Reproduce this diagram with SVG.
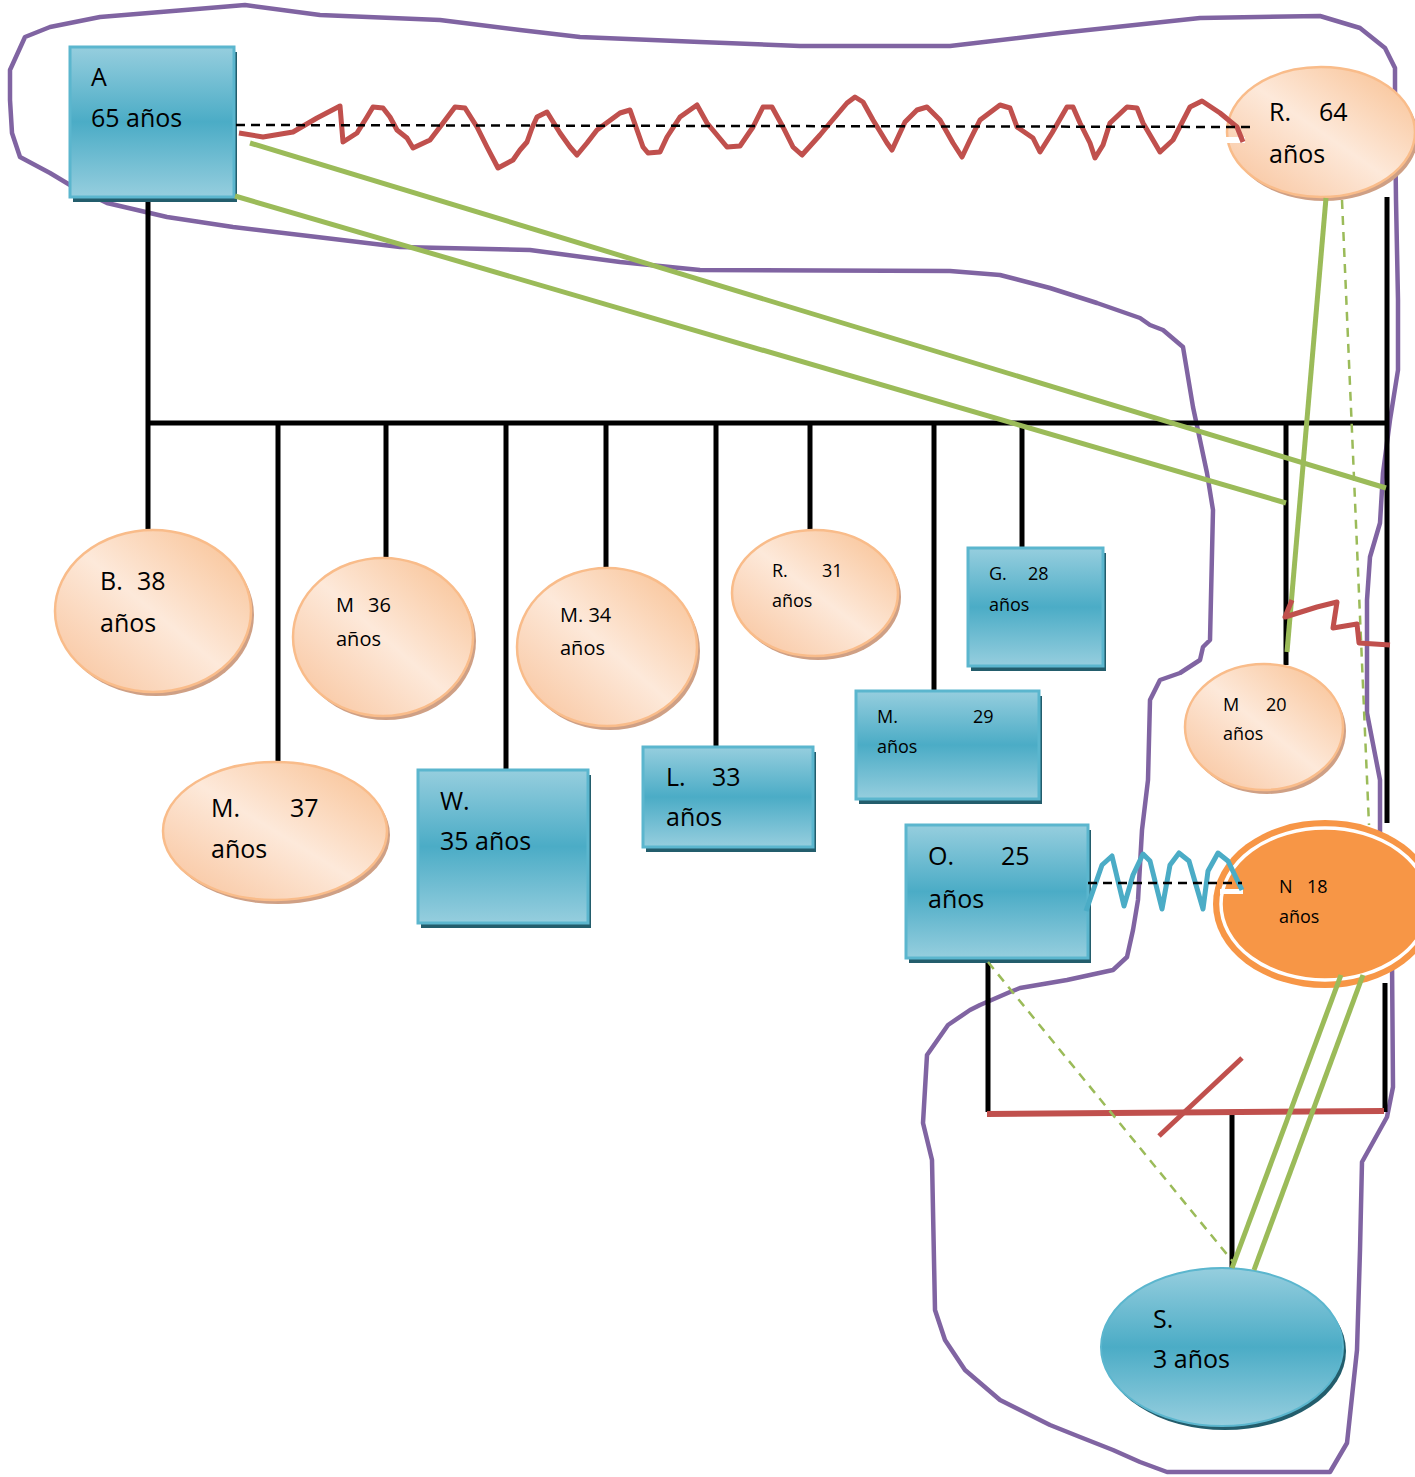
<svg xmlns="http://www.w3.org/2000/svg" width="1415" height="1477" viewBox="0 0 1415 1477">
  <defs>
    <linearGradient id="blueFill" x1="0" y1="0" x2="0" y2="1">
      <stop offset="0" stop-color="#96CEDE"/>
      <stop offset="0.5" stop-color="#4BACC6"/>
      <stop offset="1" stop-color="#96CEDE"/>
    </linearGradient>
    <linearGradient id="peachFill" x1="1" y1="0" x2="0" y2="1">
      <stop offset="0" stop-color="#F8BE8E"/>
      <stop offset="0.5" stop-color="#FDE9DA"/>
      <stop offset="1" stop-color="#F8C198"/>
    </linearGradient>
    <style>
      .box { fill: url(#blueFill); stroke: #5BB6CE; stroke-width: 3; }
      .box-shadow { fill: #235D6C; }
      .peach { fill: url(#peachFill); stroke: #F9BC8A; stroke-width: 2.5; }
      .peach-shadow { fill: #CFA085; }
      .blue-ell { fill: url(#blueFill); stroke: #5BB6CE; stroke-width: 2; }
      .t { font-family: "Open Sans", "Noto Sans", sans-serif; fill: #000; }
      .big { font-size: 25px; }
      .mid { font-size: 20px; }
      .small { font-size: 18px; }
      .kin { stroke: #000; stroke-width: 5; fill: none; }
      .green { stroke: #9BBB59; stroke-width: 5; fill: none; }
      .green-dash { stroke: #9BBB59; stroke-width: 2.5; fill: none; stroke-dasharray: 9 7; }
      .red { stroke: #C0504D; stroke-width: 5; fill: none; stroke-linejoin: round; stroke-linecap: butt; }
      .blue-wave { stroke: #4BACC6; stroke-width: 5; fill: none; stroke-linejoin: round; }
      .black-dash { stroke: #000; stroke-width: 2.5; fill: none; stroke-dasharray: 9 6; }
      .household { stroke: #8064A2; stroke-width: 4.5; fill: none; stroke-linejoin: round; }
    </style>
  </defs>

  <rect x="0" y="0" width="1415" height="1477" fill="#FFFFFF"/>

  <!-- household boundary -->
  <g id="household">
    <polyline class="household" points="185,10 245,5 320,15 440,20 520,30 580,37 700,42 800,46 950,46 1060,33 1200,18 1320,16 1360,28 1385,48 1395,68 1395,120 1396,200 1398,300 1398,370 1390,420 1383,473 1380,523 1370,557 1367,600 1367,713 1380,780 1380,840 1385,900 1392,960 1393,1087 1387,1117 1362,1162 1360,1250 1357,1350 1347,1443 1330,1472 1167,1472 1140,1462 1113,1450 1080,1437 1050,1425 1000,1400 965,1370 945,1340 935,1310 932,1160 923,1123 927,1055 948,1025 970,1010 980,1005 1010,992 1020,988 1067,980 1113,970 1127,957 1133,930 1138,900 1142,830 1148,780 1150,700 1160,680 1180,673 1200,660 1203,647 1210,640 1213,510 1207,473 1193,407 1183,347 1163,330 1150,325 1140,318 1097,303 1050,288 1000,275 950,271 700,270 620,262 530,250 400,247 317,237 233,227 167,217 107,203 70,185 50,173 20,157 12,133 10,100 10,70 25,37 50,27 100,17 185,10"/>
  </g>

  <!-- descent lines -->
  <g id="kinship-lines">
    <line class="kin" x1="148" y1="197" x2="148" y2="531"/>
    <line class="kin" x1="146" y1="423" x2="1389" y2="423"/>
    <line class="kin" x1="278" y1="423" x2="278" y2="762"/>
    <line class="kin" x1="386" y1="423" x2="386" y2="559"/>
    <line class="kin" x1="506" y1="423" x2="506" y2="770"/>
    <line class="kin" x1="606" y1="423" x2="606" y2="569"/>
    <line class="kin" x1="716" y1="423" x2="716" y2="747"/>
    <line class="kin" x1="810" y1="423" x2="810" y2="531"/>
    <line class="kin" x1="934" y1="423" x2="934" y2="691"/>
    <line class="kin" x1="1022" y1="423" x2="1022" y2="548"/>
    <line class="kin" x1="1286" y1="423" x2="1286" y2="665"/>
    <line class="kin" x1="1387" y1="197" x2="1387" y2="823"/>
    <line class="kin" x1="988" y1="958" x2="988" y2="1112"/>
    <line class="kin" x1="1385" y1="983" x2="1385" y2="1112"/>
    <line class="kin" x1="1232" y1="1113" x2="1232" y2="1268"/>
  </g>

  <!-- people -->
  <g id="node-A">
    <rect class="box-shadow" x="73" y="52" width="164" height="150"/>
    <rect class="box" x="70" y="47" width="164" height="150"/>
    <text class="t big" x="91" y="86">A</text>
    <text class="t big" x="91" y="127">65 años</text>
  </g>
  <g id="node-R64">
    <ellipse class="peach-shadow" cx="1324" cy="136" rx="94" ry="65"/>
    <ellipse class="peach" cx="1321" cy="132" rx="94" ry="65"/>
    <rect x="1226" y="137" width="19" height="6" fill="#FFFFFF"/>
    <text class="t big" x="1269" y="121">R.</text>
    <text class="t big" x="1319" y="121">64</text>
    <text class="t big" x="1269" y="163">años</text>
  </g>
  <g id="node-B38">
    <ellipse class="peach-shadow" cx="156" cy="615" rx="98" ry="81"/>
    <ellipse class="peach" cx="153" cy="611" rx="98" ry="81"/>
    <text class="t big" x="100" y="590">B.</text>
    <text class="t big" x="137" y="590">38</text>
    <text class="t big" x="100" y="632">años</text>
  </g>
  <g id="node-M37">
    <ellipse class="peach-shadow" cx="278" cy="835" rx="112" ry="69"/>
    <ellipse class="peach" cx="275" cy="831" rx="112" ry="69"/>
    <text class="t big" x="211" y="817">M.</text>
    <text class="t big" x="290" y="817">37</text>
    <text class="t big" x="211" y="858">años</text>
  </g>
  <g id="node-M36">
    <ellipse class="peach-shadow" cx="386" cy="641" rx="90" ry="79"/>
    <ellipse class="peach" cx="383" cy="637" rx="90" ry="79"/>
    <text class="t mid" x="336" y="612">M</text>
    <text class="t mid" x="368" y="612">36</text>
    <text class="t mid" x="336" y="646">años</text>
  </g>
  <g id="node-W35">
    <rect class="box-shadow" x="421" y="775" width="170" height="153"/>
    <rect class="box" x="418" y="770" width="170" height="153"/>
    <text class="t big" x="440" y="810">W.</text>
    <text class="t big" x="440" y="850">35 años</text>
  </g>
  <g id="node-M34">
    <ellipse class="peach-shadow" cx="610" cy="651" rx="90" ry="79"/>
    <ellipse class="peach" cx="607" cy="647" rx="90" ry="79"/>
    <text class="t mid" x="560" y="622">M. 34</text>
    <text class="t mid" x="560" y="655">años</text>
  </g>
  <g id="node-L33">
    <rect class="box-shadow" x="646" y="752" width="170" height="100"/>
    <rect class="box" x="643" y="747" width="170" height="100"/>
    <text class="t big" x="666" y="786">L.</text>
    <text class="t big" x="712" y="786">33</text>
    <text class="t big" x="666" y="826">años</text>
  </g>
  <g id="node-R31">
    <ellipse class="peach-shadow" cx="818" cy="597" rx="83" ry="63"/>
    <ellipse class="peach" cx="815" cy="593" rx="83" ry="63"/>
    <text class="t small" x="772" y="577">R.</text>
    <text class="t small" x="822" y="577">31</text>
    <text class="t small" x="772" y="607">años</text>
  </g>
  <g id="node-M29">
    <rect class="box-shadow" x="859" y="696" width="183" height="108"/>
    <rect class="box" x="856" y="691" width="183" height="108"/>
    <text class="t small" x="877" y="723">M.</text>
    <text class="t small" x="973" y="723">29</text>
    <text class="t small" x="877" y="753">años</text>
  </g>
  <g id="node-G28">
    <rect class="box-shadow" x="971" y="553" width="135" height="118"/>
    <rect class="box" x="968" y="548" width="135" height="118"/>
    <text class="t small" x="989" y="580">G.</text>
    <text class="t small" x="1028" y="580">28</text>
    <text class="t small" x="989" y="611">años</text>
  </g>
  <g id="node-M20">
    <ellipse class="peach-shadow" cx="1267" cy="731" rx="79" ry="63"/>
    <ellipse class="peach" cx="1264" cy="727" rx="79" ry="63"/>
    <text class="t small" x="1223" y="711">M</text>
    <text class="t small" x="1266" y="711">20</text>
    <text class="t small" x="1223" y="740">años</text>
  </g>
  <g id="node-O25">
    <rect class="box-shadow" x="909" y="830" width="182" height="133"/>
    <rect class="box" x="906" y="825" width="182" height="133"/>
    <text class="t big" x="928" y="865">O.</text>
    <text class="t big" x="1001" y="865">25</text>
    <text class="t big" x="928" y="908">años</text>
  </g>
  <g id="node-N18">
    <ellipse cx="1325" cy="904" rx="112" ry="84" fill="#F79646"/>
    <ellipse cx="1325" cy="904" rx="104" ry="76" fill="none" stroke="#FFFFFF" stroke-width="3.5"/>
    <rect x="1220" y="889" width="23" height="5" fill="#FFFFFF"/>
    <text class="t small" x="1279" y="893">N</text>
    <text class="t small" x="1307" y="893">18</text>
    <text class="t small" x="1279" y="923">años</text>
  </g>
  <g id="node-S3">
    <ellipse cx="1225" cy="1351" rx="121" ry="79" fill="#235D6C"/>
    <ellipse class="blue-ell" cx="1222" cy="1347" rx="121" ry="79"/>
    <text class="t big" x="1153" y="1328">S.</text>
    <text class="t big" x="1153" y="1368">3 años</text>
  </g>

  <!-- relationship connectors -->
  <g id="connectors">
    <!-- conflictive union A / R -->
    <polyline class="red" points="239,133 263,137 293,132 317,118 340,106 343,142 357,133 367,117 373,107 383,108 390,117 397,130 407,138 413,148 430,140 443,123 455,107 465,108 477,127 487,147 498,168 513,160 520,150 527,142 532,128 537,117 547,112 560,133 570,147 577,155 587,143 597,130 620,113 630,110 643,147 648,153 660,152 667,137 680,117 697,105 707,123 727,147 740,146 753,127 763,107 772,107 783,127 793,147 802,155 820,135 830,123 847,103 855,97 863,102 873,120 887,143 892,150 905,122 917,110 927,107 940,120 953,143 962,157 970,140 980,120 1000,105 1010,108 1017,127 1033,138 1040,152 1052,133 1067,107 1073,107 1080,123 1090,143 1095,158 1103,145 1110,123 1127,107 1137,108 1143,123 1160,152 1173,140 1190,107 1202,101 1220,113 1237,127 1243,142"/>
    <line class="black-dash" x1="236" y1="125" x2="1253" y2="127"/>

    <!-- close bonds -->
    <line class="green" x1="250" y1="143" x2="1386" y2="488"/>
    <line class="green" x1="235" y1="196" x2="1286" y2="503"/>
    <line class="green" x1="1326" y1="198" x2="1287" y2="652"/>
    <line class="green-dash" x1="1342" y1="200" x2="1369" y2="825"/>

    <!-- conflict M20 -->
    <polyline class="red" points="1292,600 1285,617 1317,607 1337,602 1333,628 1357,624 1359,643 1390,645"/>

    <!-- union O / N -->
    <polyline class="blue-wave" points="1086,911 1102,865 1112,856 1124,906 1133,875 1143,854 1150,861 1162,909 1170,865 1179,853 1189,861 1203,909 1208,871 1218,853 1228,861 1242,890"/>
    <line class="black-dash" x1="1088" y1="883" x2="1242" y2="883"/>

    <!-- separation line and child S -->
    <line x1="987" y1="1114" x2="1384" y2="1111" stroke="#C0504D" stroke-width="6"/>
    <line x1="1159" y1="1136" x2="1242" y2="1058" stroke="#C0504D" stroke-width="5"/>
    <line class="green-dash" x1="988" y1="962" x2="1234" y2="1263"/>
    <line class="green" x1="1341" y1="975" x2="1232" y2="1268"/>
    <line class="green" x1="1363" y1="975" x2="1254" y2="1270"/>
  </g>
</svg>
